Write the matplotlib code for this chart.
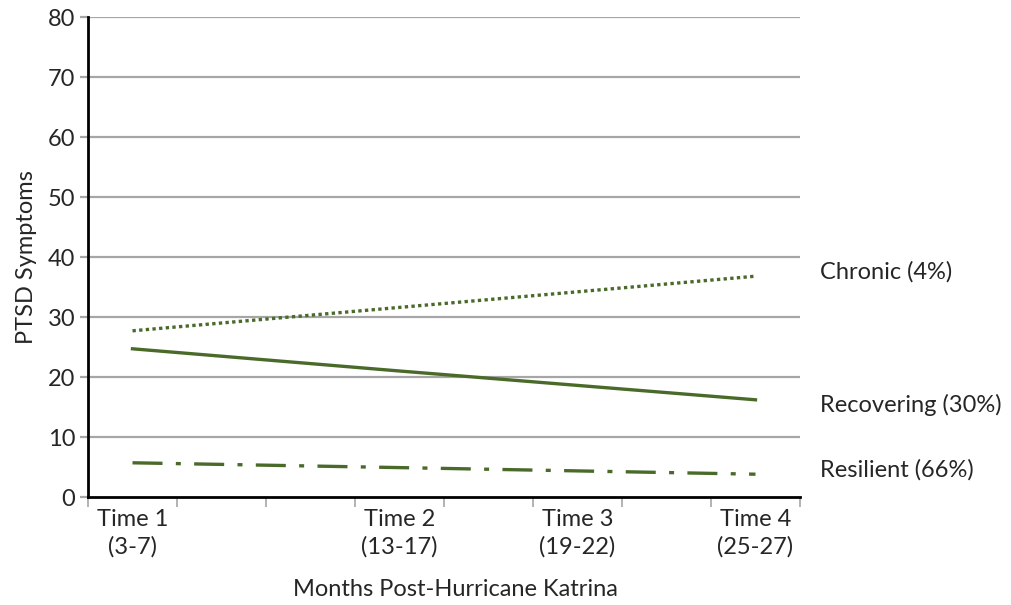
import matplotlib
matplotlib.use("Agg")
import matplotlib.pyplot as plt

plt.rcParams['font.family'] = ['Lato', 'DejaVu Sans']

times = [0.5, 3.5, 5.5, 7.5]
time_labels = ["Time 1\n(3-7)", "Time 2\n(13-17)", "Time 3\n(19-22)", "Time 4\n(25-27)"]
chronic = [27.7, 31.6, 34.2, 36.8]
recovering = [24.7, 21.0, 18.6, 16.2]
resilient = [5.7, 4.9, 4.35, 3.8]
group_names = ["Chronic (4%)", "Recovering (30%)", "Resilient (66%)"]
label_y = [37.5, 15.3, 4.5]

GREEN = '#4a6a2a'
GRID = '#a6a6a6'
TXT = '#262626'
FS = 17

fig = plt.figure(figsize=(10.11, 6.05), dpi=100)
ax = fig.add_axes([88 / 1011, 108 / 605, 712 / 1011, 480 / 605])

for y in range(10, 81, 10):
    ax.axhline(y, color=GRID, lw=1.6, zorder=1)

ax.plot(times, chronic, color=GREEN, lw=2.4, linestyle=(0, (1, 1)), zorder=3)
ax.plot(times, recovering, color=GREEN, lw=2.4, linestyle='-', zorder=3)
ax.plot(times, resilient, color=GREEN, lw=2.4, linestyle=(0, (9, 4, 1.5, 4)), zorder=3)

for name, y in zip(group_names, label_y):
    ax.text(8.22, y, name, fontsize=FS, color=TXT, va='center', ha='left', clip_on=False)

ax.set_xlim(0, 8)
ax.set_ylim(0, 80)
ax.set_yticks(range(0, 81, 10))
ax.tick_params(axis='y', labelsize=FS, colors=TXT, length=6, width=1.6, color=GRID, pad=3)

ax.set_xticks(range(0, 9))
ax.set_xticklabels([])
ax.tick_params(axis='x', length=7, width=1.2, color=GRID)
for t, lab in zip(times, time_labels):
    ax.text(t, -2.0, lab, fontsize=FS, color=TXT, ha='center', va='top', linespacing=1.35)

ax.spines['top'].set_visible(False)
ax.spines['right'].set_visible(False)
ax.spines['left'].set_linewidth(2)
ax.spines['bottom'].set_linewidth(2)
ax.spines['left'].set_zorder(4)

ax.set_ylabel("PTSD Symptoms", fontsize=FS, color=TXT, labelpad=8)
fig.text(455 / 1011, 1 - 590 / 605, "Months Post-Hurricane Katrina", fontsize=FS,
         color=TXT, ha='center', va='center')

fig.savefig("out.png", dpi=100)
